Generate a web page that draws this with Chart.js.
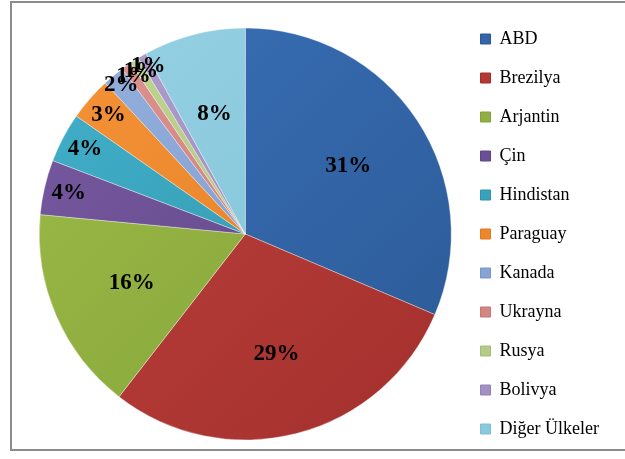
<!DOCTYPE html>
<html>
<head>
<meta charset="utf-8">
<script src="https://cdn.jsdelivr.net/npm/chart.js@4/dist/chart.umd.min.js"></script>
<style>
  html, body { margin: 0; padding: 0; background: #fff; overflow: hidden; }
  #wrap { position: relative; width: 625px; height: 459px; }
  #frame { position: absolute; left: 10px; top: 1px; width: 640px; height: 450px; border: 2px solid #8c8c8c; box-sizing: border-box; }
  canvas { position: absolute; left: 0; top: 0; }
</style>
</head>
<body>
<div id="wrap">
  <div id="frame"></div>
  <canvas id="pie" width="625" height="459"></canvas>
</div>
<script>
// shares per country (%)
const countries = ['ABD', 'Brezilya', 'Arjantin', 'Çin', 'Hindistan', 'Paraguay',
                   'Kanada', 'Ukrayna', 'Rusya', 'Bolivya', 'Diğer Ülkeler'];
const shares = [31.4, 29.1, 16.0, 4.3, 3.9, 3.4, 1.7, 0.8, 0.7, 0.7, 8.0];

// light / dark ends of the slice shading
const lightColors = ['#3a72bb', '#c2433e', '#9cbc48', '#785aa1', '#43b1ca', '#f79438',
                     '#95b2df', '#df9693', '#c1d794', '#b1a1cf', '#97d3e5'];
const darkColors  = ['#2b5893', '#a12f2c', '#83a138', '#5e4484', '#2e92ab', '#df7920',
                     '#7995c5', '#c67572', '#a6bc77', '#9281b4', '#7dbdd2'];
const baseColors  = ['#3365a8', '#b43934', '#91af42', '#6b4f94', '#39a2bb', '#ee872c',
                     '#87a4d3', '#d38582', '#b4ca86', '#a391c2', '#8ac8dc'];

const SERIF = "'Liberation Serif', 'Times New Roman', serif";

function sliceFill(ctx) {
  const area = ctx.chart.chartArea;
  const i = ctx.dataIndex;
  if (!area) return baseColors[i];
  const g = ctx.chart.ctx.createLinearGradient(area.left, area.top, area.right, area.bottom);
  g.addColorStop(0, lightColors[i]);
  g.addColorStop(1, darkColors[i]);
  return g;
}

// percent labels inside the slices, small slices pushed towards the rim
const sliceLabels = {
  id: 'sliceLabels',
  afterDatasetsDraw(chart) {
    const { ctx } = chart;
    const meta = chart.getDatasetMeta(0);
    ctx.save();
    ctx.font = "bold 23px " + SERIF;
    ctx.fillStyle = '#000';
    ctx.textAlign = 'center';
    ctx.textBaseline = 'middle';
    meta.data.forEach((arc, i) => {
      const v = shares[i];
      const p = arc.getProps(['x', 'y', 'startAngle', 'endAngle', 'outerRadius'], true);
      const mid = (p.startAngle + p.endAngle) / 2;
      const f = v >= 7 ? 0.6 : v >= 3 ? 0.88 : 0.94;
      const r = p.outerRadius * f;
      ctx.fillText(Math.round(v) + '%', p.x + Math.cos(mid) * r, p.y + Math.sin(mid) * r);
    });
    ctx.restore();
  }
};

new Chart(document.getElementById('pie'), {
  type: 'pie',
  data: {
    labels: countries,
    datasets: [{
      data: shares,
      backgroundColor: sliceFill,
      borderColor: 'rgba(255,255,255,0.35)',
      borderWidth: 1
    }]
  },
  options: {
    responsive: false,
    animation: false,
    radius: 206,
    layout: { padding: { left: 31, top: 9, bottom: 0, right: 16 } },
    plugins: {
      tooltip: { enabled: false },
      legend: {
        position: 'right',
        labels: {
          color: '#000',
          font: { family: SERIF, size: 18 },
          boxWidth: 10,
          boxHeight: 10,
          padding: 21,
          generateLabels(chart) {
            return countries.map((c, i) => ({
              text: c,
              fillStyle: baseColors[i],
              strokeStyle: darkColors[i],
              lineWidth: 1,
              hidden: false,
              index: i
            }));
          }
        }
      }
    }
  },
  plugins: [sliceLabels]
});
</script>
</body>
</html>
